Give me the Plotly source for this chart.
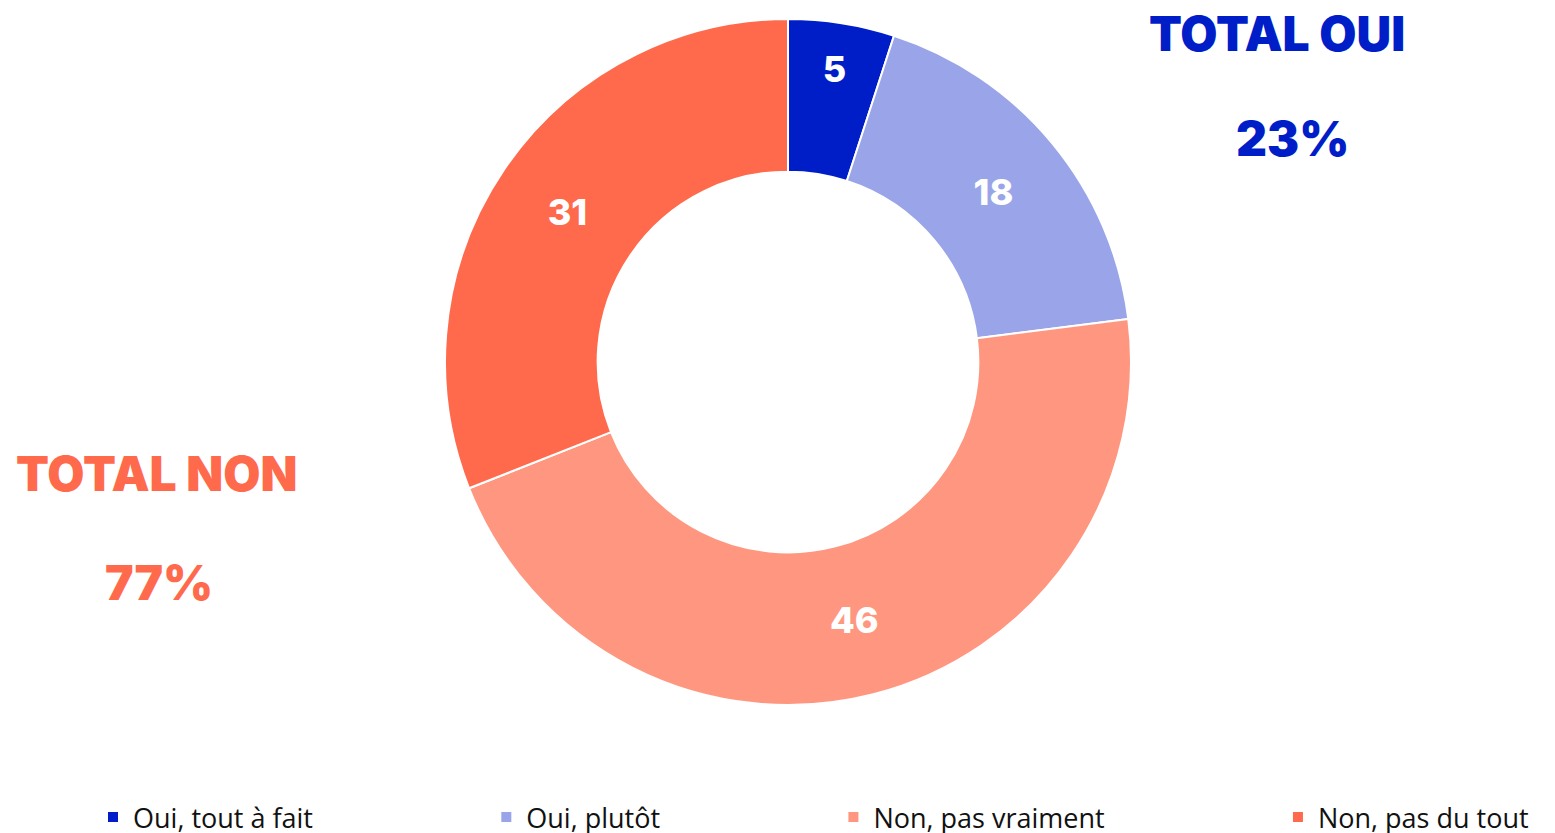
import plotly.graph_objects as go

labels = ["Oui, tout à fait", "Oui, plutôt", "Non, pas vraiment", "Non, pas du tout"]
values = [5, 18, 46, 31]
colors = ["#001EC8", "#99A5E8", "#FF9780", "#FF6A4D"]
totals = [("TOTAL OUI", "23%", "#001EC8"), ("TOTAL NON", "77%", "#FF6A4D")]

W, H = 1555, 833
OFF = 8                      # page body margin
FW, FH = W - OFF, H - OFF + 9


def px(x):
    return (x - OFF) / FW


def py(y):
    return 1 - (y - OFF) / FH


pad = "\u00a0" * 24
legend_names = [l + pad for l in labels[:-1]] + [labels[-1]]

BIG = dict(family="Inter", weight=900)

cx, cy, R = 788, 362, 343
fig = go.Figure(go.Pie(
    labels=legend_names,
    values=values,
    hole=0.555,
    sort=False,
    direction="clockwise",
    rotation=0,
    marker=dict(colors=colors, line=dict(color="white", width=2)),
    text=[str(v) for v in values],
    textinfo="text",
    textposition="inside",
    insidetextorientation="horizontal",
    insidetextfont=dict(color="white", size=36, family="Inter", weight=800),
    domain=dict(x=[px(cx - R), px(cx + R)], y=[py(cy + R), py(cy - R)]),
    hoverinfo="label+value",
))

for (x, y, t, c) in [(1277, 33, totals[0][0], totals[0][2]), (1292, 138, totals[0][1], totals[0][2]),
                     (156, 473, totals[1][0], totals[1][2]), (159, 582, totals[1][1], totals[1][2])]:
    fig.add_annotation(x=px(x), y=py(y), xref="paper", yref="paper", text=t,
                       xanchor="center", yanchor="middle",
                       showarrow=False, font=dict(size=48, color=c, **BIG))

fig.update_layout(
    width=FW, height=FH,
    margin=dict(l=0, r=0, t=0, b=0),
    paper_bgcolor="white", plot_bgcolor="white",
    showlegend=True,
    legend=dict(orientation="h", x=85 / FW, y=0, xanchor="left", yanchor="bottom",
                font=dict(size=27, color="#111111", family="Open Sans"),
                itemclick=False, bgcolor="rgba(0,0,0,0)"),
)
fig.write_html("out.html")
